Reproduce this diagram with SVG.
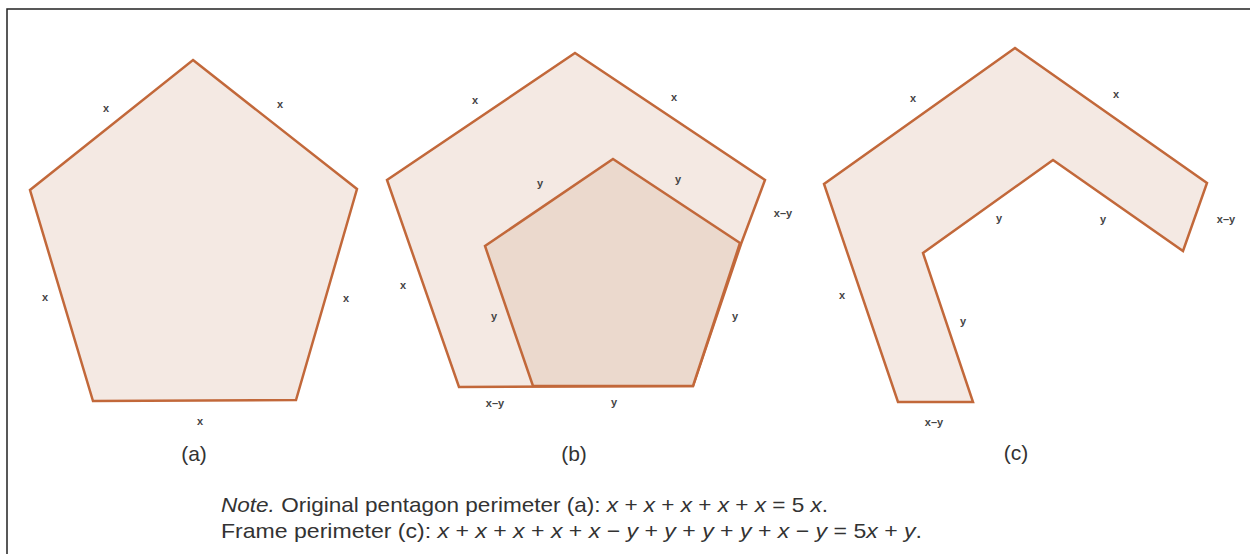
<svg xmlns="http://www.w3.org/2000/svg" width="1250" height="554" viewBox="0 0 1250 554">
<style>
.shape{stroke:#c2683a;stroke-width:2.5;stroke-linejoin:miter}
.light{fill:#f4e9e3}
.dark{fill:#ebd9cd}
.lbl{font-family:"Liberation Sans",Arial,sans-serif;font-size:11px;font-weight:bold;fill:#444;text-anchor:middle}
.cap{font-family:"Liberation Sans",Arial,sans-serif;font-size:21px;fill:#333;text-anchor:middle}
.note{font-family:"Liberation Sans",Arial,sans-serif;font-size:21px;fill:#333}
.i{font-style:italic}
</style>
<rect x="7" y="9" width="1260" height="560" fill="#fff" stroke="#222" stroke-width="1.5"/>
<g id="fig-a">
<polygon class="shape light" points="193,60 357,189 296,400 93,401 30,190"/>
<text class="lbl" x="106" y="112">x</text>
<text class="lbl" x="280" y="108">x</text>
<text class="lbl" x="45" y="301">x</text>
<text class="lbl" x="346" y="302">x</text>
<text class="lbl" x="200" y="425">x</text>
<text class="cap" x="194" y="461">(a)</text>
</g>
<g id="fig-b">
<polygon class="shape light" points="575,53 765,180 741,244 693,386 459,387 387,180"/>
<polygon class="shape dark" points="613,159 740,243 693,386 533,386 485,246"/>
<text class="lbl" x="475" y="104">x</text>
<text class="lbl" x="674" y="101">x</text>
<text class="lbl" x="540" y="187">y</text>
<text class="lbl" x="678" y="183">y</text>
<text class="lbl" x="783" y="217">x–y</text>
<text class="lbl" x="403" y="289">x</text>
<text class="lbl" x="494" y="320">y</text>
<text class="lbl" x="735" y="320">y</text>
<text class="lbl" x="495" y="407">x–y</text>
<text class="lbl" x="614" y="406">y</text>
<text class="cap" x="574" y="461">(b)</text>
</g>
<g id="fig-c">
<polygon class="shape light" points="1015,48 1207,183 1183,251 1053,160 923,253 973,402 898,402 824,184"/>
<text class="lbl" x="913" y="102">x</text>
<text class="lbl" x="1116" y="98">x</text>
<text class="lbl" x="999" y="222">y</text>
<text class="lbl" x="1103" y="223">y</text>
<text class="lbl" x="1226" y="223">x–y</text>
<text class="lbl" x="842" y="299">x</text>
<text class="lbl" x="963" y="325">y</text>
<text class="lbl" x="934" y="426">x–y</text>
<text class="cap" x="1016" y="460">(c)</text>
</g>
<g id="note">
<text class="note" x="221" y="512" textLength="607" lengthAdjust="spacingAndGlyphs"><tspan class="i">Note.</tspan> Original pentagon perimeter (a): <tspan class="i">x</tspan> + <tspan class="i">x</tspan> + <tspan class="i">x</tspan> + <tspan class="i">x</tspan> + <tspan class="i">x</tspan> = 5 <tspan class="i">x</tspan>.</text>
<text class="note" x="221" y="538" textLength="701" lengthAdjust="spacingAndGlyphs">Frame perimeter (c): <tspan class="i">x</tspan> + <tspan class="i">x</tspan> + <tspan class="i">x</tspan> + <tspan class="i">x</tspan> + <tspan class="i">x</tspan> − <tspan class="i">y</tspan> + <tspan class="i">y</tspan> + <tspan class="i">y</tspan> + <tspan class="i">y</tspan> + <tspan class="i">x</tspan> − <tspan class="i">y</tspan> = 5<tspan class="i">x</tspan> + <tspan class="i">y</tspan>.</text>
</g>
</svg>
